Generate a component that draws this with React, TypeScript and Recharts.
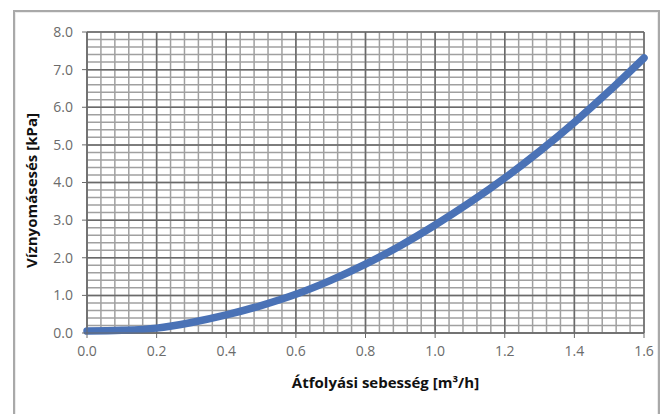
import { LineChart, Line, XAxis, YAxis, ReferenceLine, Label } from 'recharts'

// flow rate [m3/h] and pressure drop [kPa]
const flow = [0.0, 0.1, 0.2, 0.3, 0.4, 0.5, 0.6, 0.7, 0.8, 0.9, 1.0, 1.1, 1.2, 1.3, 1.4, 1.5, 1.6]
const pressure = [0.05, 0.07, 0.13, 0.28, 0.48, 0.73, 1.03, 1.4, 1.83, 2.32, 2.87, 3.47, 4.12, 4.83, 5.6, 6.43, 7.31]

const xTicks = [0, 0.2, 0.4, 0.6, 0.8, 1.0, 1.2, 1.4, 1.6]
const yTicks = [0, 1, 2, 3, 4, 5, 6, 7, 8]
const xMinor = Array.from({ length: 41 }, (_, i) => +(i * 0.04).toFixed(2))
const yMinor = Array.from({ length: 41 }, (_, i) => +(i * 0.2).toFixed(1))

const data = flow.map((f, i) => ({ flow: f, pressure: pressure[i] }))

const tickStyle = { fontSize: 14, fill: '#6b6b6b', fontFamily: 'Open Sans, sans-serif' }

export default function App() {
  return (
    <div style={{ position: 'absolute', left: 0, top: 0, width: 668, height: 414, background: '#fff', overflow: 'hidden' }}>
      {/* outer frame */}
      <div
        style={{
          position: 'absolute',
          left: 13,
          top: 10,
          width: 643,
          height: 420,
          border: '2px solid #a9a9a9',
          boxShadow: 'inset 0 0 0 1px #ececec'
        }}
      />
      <div style={{ position: 'absolute', left: 0, top: 0 }}>
        <LineChart width={668} height={414} data={data} margin={{ top: 32, right: 24, bottom: 0, left: 14 }}>
          {/* minor grid */}
          {xMinor.map(v => (
            <ReferenceLine key={'xm' + v} x={v} stroke="#a0a0a0" strokeWidth={1.5} />
          ))}
          {yMinor.map(v => (
            <ReferenceLine key={'ym' + v} y={v} stroke="#a0a0a0" strokeWidth={1.5} />
          ))}
          {/* major grid */}
          {xTicks.map(v => (
            <ReferenceLine key={'xM' + v} x={v} stroke="#6a6a6a" strokeWidth={1.5} />
          ))}
          {yTicks.map(v => (
            <ReferenceLine key={'yM' + v} y={v} stroke="#6a6a6a" strokeWidth={1.5} />
          ))}
          <XAxis
            dataKey="flow"
            type="number"
            domain={[0, 1.6]}
            ticks={xTicks}
            tickFormatter={(v: number) => v.toFixed(1)}
            tick={tickStyle}
            tickSize={5}
            tickMargin={8}
            stroke="#6a6a6a"
            height={81}
          >
            <Label
              content={({ viewBox }: any) => (
                <text
                  x={viewBox.x + viewBox.width / 2 + 20}
                  y={viewBox.y + 55}
                  textAnchor="middle"
                  style={{ fontSize: 15, fontWeight: 'bold', fontFamily: 'Open Sans, sans-serif', fill: '#111' }}
                >
                  Átfolyási sebesség [m³/h]
                </text>
              )}
            />
          </XAxis>
          <YAxis
            type="number"
            domain={[0, 8]}
            ticks={yTicks}
            tickFormatter={(v: number) => v.toFixed(1)}
            tick={tickStyle}
            tickSize={5}
            tickMargin={9}
            stroke="#6a6a6a"
            width={73}
          >
            <Label
              content={({ viewBox }: any) => {
                const cx = 33
                const cy = viewBox.y + viewBox.height / 2 + 8
                return (
                  <text
                    x={cx}
                    y={cy}
                    transform={`rotate(-90 ${cx} ${cy})`}
                    textAnchor="middle"
                    dominantBaseline="middle"
                    style={{ fontSize: 15, fontWeight: 'bold', fontFamily: 'Open Sans, sans-serif', fill: '#111' }}
                  >
                    Víznyomásesés [kPa]
                  </text>
                )
              }}
            />
          </YAxis>
          <Line
            dataKey="pressure"
            type="monotone"
            stroke="#4a72b6"
            strokeWidth={7.5}
            dot={false}
            strokeLinecap="round"
            isAnimationActive={false}
          />
        </LineChart>
      </div>
    </div>
  )
}
